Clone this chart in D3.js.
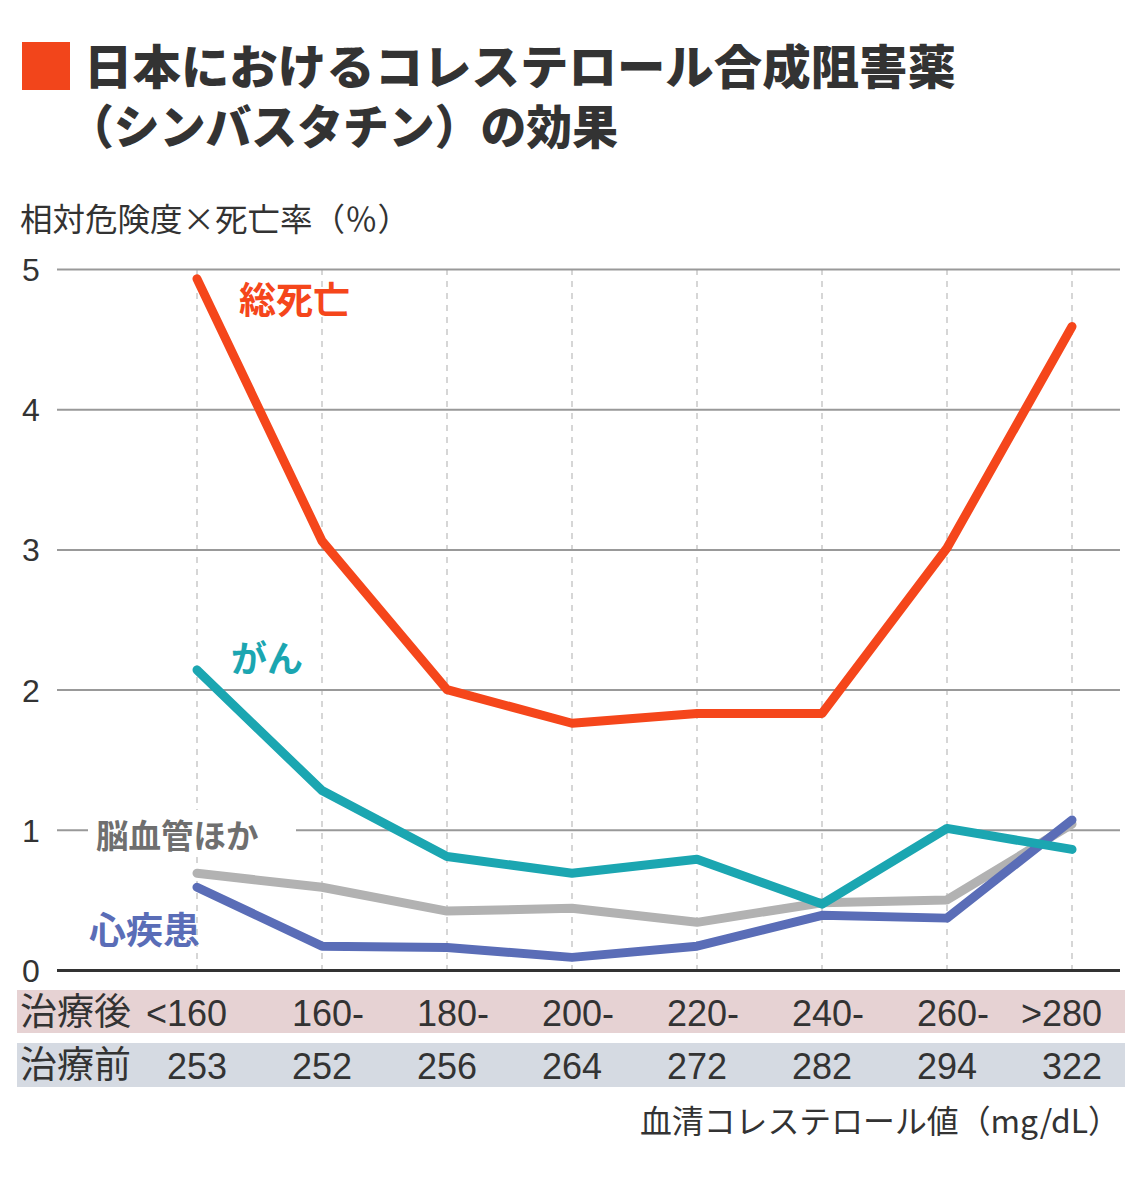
<!DOCTYPE html>
<html><head><meta charset="utf-8">
<script src="https://cdn.jsdelivr.net/npm/d3@7"></script>
<style>
body{margin:0;background:#fff;}
svg{display:block;font-family:"Noto Sans CJK JP","Noto Sans",sans-serif;}
</style></head>
<body>
<svg id="c" width="1140" height="1203"></svg>
<script>
const categories = ["<160","160-","180-","200-","220-","240-","260-",">280"];
const beforeValues = ["253","252","256","264","272","282","294","322"];
const yTicks = [0,1,2,3,4,5];
const totalDeath = [4.93,3.06,2.0,1.76,1.83,1.83,3.01,4.59];
const cancer = [2.14,1.28,0.81,0.69,0.79,0.47,1.01,0.86];
const cerebro = [0.69,0.59,0.42,0.44,0.34,0.48,0.50,1.04];
const heart = [0.59,0.17,0.16,0.09,0.17,0.39,0.37,1.07];

const title1 = "日本におけるコレステロール合成阻害薬";
const title2 = "（シンバスタチン）の効果";
const yTitle = "相対危険度×死亡率（％）";
const xTitle = "血清コレステロール値（mg/dL）";
const rowAfter = "治療後";
const rowBefore = "治療前";

const svg = d3.select("#c");
const x = d3.scalePoint().domain(d3.range(categories.length)).range([197,1072]);
const y = d3.scaleLinear().domain([0,5]).range([970,269]);

// title
svg.append("rect").attr("x",22).attr("y",42).attr("width",48).attr("height",48).attr("fill","#F2451B");
const tt = svg.append("text").attr("font-size",47).attr("font-weight",900).attr("fill","#333");
tt.append("tspan").attr("x",84).attr("y",84).attr("textLength",872).attr("lengthAdjust","spacingAndGlyphs").text(title1);
tt.append("tspan").attr("x",68).attr("y",144).attr("textLength",550).attr("lengthAdjust","spacingAndGlyphs").text(title2);

// y title
svg.append("text").attr("x",20).attr("y",231).attr("font-size",32).attr("fill","#333")
  .attr("textLength",390).attr("lengthAdjust","spacingAndGlyphs").text(yTitle);

// vertical dashed
svg.append("g").selectAll("line").data(categories.map((d,i)=>i)).join("line")
  .attr("x1",d=>x(d)).attr("x2",d=>x(d)).attr("y1",y(5)).attr("y2",y(0))
  .attr("stroke","#d6d6d6").attr("stroke-width",2).attr("stroke-dasharray","6,6");

// grid
const yAxis = d3.axisLeft(y).tickValues(yTicks).tickSize(-(1120-57)).tickFormat(d3.format("d"));
const ga = svg.append("g").attr("transform","translate(57,0)").call(yAxis);
ga.select(".domain").remove();
ga.selectAll(".tick line").attr("stroke",d=>d===0?"#333":"#999").attr("stroke-width",d=>d===0?3:2);
ga.selectAll(".tick text").attr("x",-35).attr("text-anchor","start")
  .attr("font-family","Liberation Sans, Arial, sans-serif").attr("font-size",32).attr("fill","#333").attr("dy","0.36em");

// gap behind gray label
svg.append("rect").attr("x",88).attr("y",810).attr("width",208).attr("height",44).attr("fill","#fff");

// lines
const line = d3.line().x((d,i)=>x(i)).y(d=>y(d));
const series = [
  {v:cerebro,c:"#B2B2B2"},
  {v:heart,c:"#5A6DB7"},
  {v:cancer,c:"#1BA6B1"},
  {v:totalDeath,c:"#F5461B"}
];
svg.append("g").selectAll("path").data(series).join("path")
  .attr("d",d=>line(d.v)).attr("fill","none").attr("stroke",d=>d.c)
  .attr("stroke-width",9).attr("stroke-linejoin","round").attr("stroke-linecap","round");

// series labels
const labels = [
  {t:"総死亡",x:239,y:314,c:"#F5461B",s:37},
  {t:"がん",x:231,y:672,c:"#1BA6B1",s:36},
  {t:"脳血管ほか",x:96,y:848,c:"#6F6F6F",s:32.5},
  {t:"心疾患",x:89,y:944,c:"#5A6DB7",s:37}
];
svg.append("g").selectAll("text").data(labels).join("text")
  .attr("x",d=>d.x).attr("y",d=>d.y).attr("fill",d=>d.c).attr("font-size",d=>d.s).attr("font-weight",700)
  .text(d=>d.t);

// table bands
svg.append("rect").attr("x",17).attr("y",990).attr("width",1108).attr("height",43).attr("fill","#E6D2D3");
svg.append("rect").attr("x",17).attr("y",1043).attr("width",1108).attr("height",44).attr("fill","#D5DAE2");

svg.append("text").attr("x",20).attr("y",1025).attr("font-size",37).attr("fill","#333").text(rowAfter);
svg.append("text").attr("x",20).attr("y",1078).attr("font-size",37).attr("fill","#333").text(rowBefore);

const numFont = "Liberation Sans, Arial, sans-serif";
const g1 = svg.append("g").attr("font-family",numFont).attr("font-size",36).attr("fill","#333");
categories.forEach((c,i)=>{
  const m = c.match(/^([<>]?)(\d+)(-?)$/);
  const t = g1.append("text").attr("y",1026).text(c);
  const tmp = g1.append("text").text(m[2]);
  const wd = tmp.node().getComputedTextLength(); tmp.remove();
  const tp = g1.append("text").text(m[1]);
  const wp = m[1]? tp.node().getComputedTextLength():0; tp.remove();
  t.attr("x", x(i)-wd/2-wp);
});
svg.append("g").attr("font-family",numFont).attr("font-size",36).attr("fill","#333")
  .selectAll("text").data(beforeValues).join("text")
  .attr("x",(d,i)=>x(i)).attr("y",1079).attr("text-anchor","middle").text(d=>d);

svg.append("text").attr("x",1120).attr("y",1133).attr("text-anchor","end").attr("font-size",32).attr("fill","#333")
  .attr("textLength",480).attr("lengthAdjust","spacingAndGlyphs").text(xTitle);
</script>
</body></html>
